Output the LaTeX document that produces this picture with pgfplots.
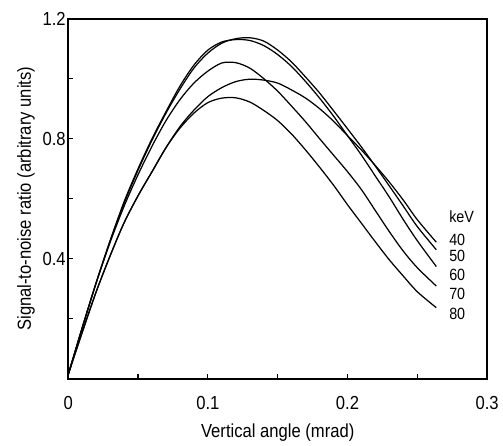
\documentclass[border=0pt]{standalone}
\usepackage{fontspec}
\setmainfont{Liberation Sans}[FakeStretch=0.88]
\usepackage{pgfplots}
\pgfplotsset{compat=1.18}
\usepackage{pgfplotstable}
\pgfplotstableread{
x      c40   c50   c60   c70   c80
0      0.015 0.015 0.015 0.015 0.015
0.01   0.155 0.17  0.17  0.17  0.155
0.02   0.29  0.32  0.32  0.32  0.29
0.03   0.41  0.46  0.46  0.455 0.41
0.04   0.52  0.585 0.59  0.575 0.52
0.05   0.61  0.695 0.70  0.68  0.61
0.06   0.69  0.795 0.80  0.775 0.69
0.07   0.77  0.885 0.89  0.86  0.77
0.08   0.84  0.965 0.975 0.93  0.835
0.09   0.895 1.035 1.045 0.985 0.885
0.10   0.94  1.085 1.095 1.025 0.92
0.11   0.97  1.118 1.122 1.052 0.935
0.12   0.99  1.133 1.13  1.053 0.936
0.13   0.998 1.136 1.127 1.035 0.922
0.14   0.995 1.125 1.11  1.0   0.894
0.15   0.985 1.095 1.08  0.958 0.86
0.16   0.962 1.055 1.04  0.908 0.815
0.17   0.935 1.005 0.99  0.856 0.762
0.18   0.90  0.952 0.935 0.80  0.705
0.19   0.858 0.893 0.875 0.745 0.645
0.20   0.81  0.833 0.81  0.69  0.58
0.21   0.762 0.772 0.745 0.63  0.518
0.22   0.71  0.708 0.675 0.56  0.456
0.23   0.655 0.642 0.605 0.49  0.396
0.24   0.595 0.575 0.53  0.425 0.342
0.25   0.53  0.507 0.46  0.37  0.29
0.2636 0.455 0.43  0.374 0.309 0.237
}\snr
\begin{document}
\begin{tikzpicture}[font=\fontsize{14.5}{17}\selectfont]
\begin{axis}[
  scale only axis,
  width=321.75pt, height=276.75pt,
  xmin=0, xmax=0.3, ymin=0, ymax=1.2,
  clip=false,
  axis line style={line width=1.5pt},
  tick style={line width=0.9pt, black},
  major tick length=4pt,
  tick align=inside,
  xtick pos=bottom, ytick pos=left,
  xtick={0,0.05,0.1,0.15,0.2,0.25,0.3},
  xticklabels={0,,0.1,,0.2,,0.3},
  ytick={0.2,0.4,0.6,0.8,1.0,1.2},
  yticklabels={,0.4,,0.8,,1.2},
  x tick label style={yshift=-10pt},
  y tick label style={xshift=1.5pt},
  xlabel={Vertical angle (mrad)},
  ylabel={Signal-to-noise ratio (arbitrary units)},
  xlabel style={yshift=-4pt},
  ylabel style={yshift=-1pt},
]
\addplot[black, line width=0.95pt, smooth, no marks] table[x=x,y=c40]{\snr};
\addplot[black, line width=0.95pt, smooth, no marks] table[x=x,y=c50]{\snr};
\addplot[black, line width=0.95pt, smooth, no marks] table[x=x,y=c60]{\snr};
\addplot[black, line width=0.95pt, smooth, no marks] table[x=x,y=c70]{\snr};
\addplot[black, line width=0.95pt, smooth, no marks] table[x=x,y=c80]{\snr};
\begin{scope}[every node/.style={anchor=west, inner sep=0pt, font=\fontsize{12.5}{14}\selectfont}]
\node at (axis cs:0.2727,0.540) {keV};
\node at (axis cs:0.2727,0.464) {40};
\node at (axis cs:0.2727,0.410) {50};
\node at (axis cs:0.2727,0.345) {60};
\node at (axis cs:0.2727,0.283) {70};
\node at (axis cs:0.2727,0.215) {80};
\end{scope}
\path (axis cs:-0.0489,-0.2081) rectangle (axis cs:0.3028,1.2618);
\end{axis}
\end{tikzpicture}
\end{document}
